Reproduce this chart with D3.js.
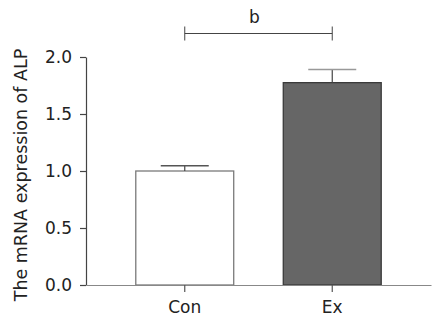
<!DOCTYPE html>
<html>
<head>
<meta charset="utf-8">
<script src="https://cdn.jsdelivr.net/npm/d3@7"></script>
<style>
  body { margin: 0; background: #fff; }
  text { font-family: "DejaVu Sans", Verdana, sans-serif; fill: #222; }
</style>
</head>
<body>
<svg id="chart" width="432" height="322"></svg>
<script>
const groups = ['Con', 'Ex'];
const means = [1.0, 1.775];
const errors = [0.045, 0.115];
const yTicks = [0, 0.5, 1.0, 1.5, 2.0];
const sigLabel = 'b';
const yLabel = 'The mRNA expression of ALP';

const svg = d3.select('#chart');
const margin = { left: 86, top: 57, bottom: 37 };
const width = 432, height = 322;
const plotBottom = height - margin.bottom; // ~285

const y = d3.scaleLinear().domain([0, 2]).range([plotBottom, margin.top]);
const x = d3.scaleBand().domain(groups).range([86, 431]).paddingInner(0.336).paddingOuter(0.3375);

// bars
const fills = ['#ffffff', '#666666'];
const strokes = ['#7a7a7a', '#3a3a3a'];
svg.append('g').selectAll('rect').data(groups).join('rect')
  .attr('x', d => x(d))
  .attr('y', (d, i) => y(means[i]))
  .attr('width', x.bandwidth())
  .attr('height', (d, i) => y(0) - y(means[i]))
  .attr('fill', (d, i) => fills[i])
  .attr('stroke', (d, i) => strokes[i])
  .attr('stroke-width', 1.3);

// error bars (upper only)
const capHalf = 24;
const eb = svg.append('g');
groups.forEach((g, i) => {
  const cx = x(g) + x.bandwidth() / 2;
  eb.append('line')
    .attr('x1', cx).attr('x2', cx)
    .attr('y1', y(means[i])).attr('y2', y(means[i] + errors[i]))
    .attr('stroke', '#444').attr('stroke-width', 1.2);
  eb.append('line')
    .attr('x1', cx - capHalf).attr('x2', cx + capHalf)
    .attr('y1', y(means[i] + errors[i])).attr('y2', y(means[i] + errors[i]))
    .attr('stroke', i === 0 ? '#555' : '#999').attr('stroke-width', 1.5);
});

// y axis
const yAxis = svg.append('g')
  .attr('transform', `translate(${margin.left},0)`)
  .call(d3.axisLeft(y).tickValues(yTicks).tickFormat(d3.format('.1f')).tickSize(6).tickSizeOuter(0));
yAxis.select('.domain').attr('stroke', '#444').attr('stroke-width', 1.2);
yAxis.selectAll('.tick line').attr('stroke', '#444').attr('stroke-width', 1.2);
yAxis.selectAll('.tick text').attr('font-size', 17).attr('x', -14).attr('fill', '#222');

// x axis
const xAxis = svg.append('g')
  .attr('transform', `translate(0,${plotBottom})`)
  .call(d3.axisBottom(x).tickSize(7).tickSizeOuter(0));
xAxis.select('.domain').attr('stroke', '#888').attr('stroke-width', 1.2);
xAxis.selectAll('.tick line').attr('stroke', '#555').attr('stroke-width', 1.2);
xAxis.selectAll('.tick text').attr('font-size', 17).attr('y', 16).attr('dy', '0.71em').attr('fill', '#222');

// y label
svg.append('text')
  .attr('transform', `translate(27,175) rotate(-90)`)
  .attr('text-anchor', 'middle')
  .attr('font-size', 17.5)
  .text(yLabel);

// significance bracket
const x1 = x(groups[0]) + x.bandwidth() / 2;
const x2 = x(groups[1]) + x.bandwidth() / 2;
const by = 33.5;
const br = svg.append('g').attr('stroke', '#444').attr('stroke-width', 1);
br.append('line').attr('x1', x1).attr('x2', x2).attr('y1', by).attr('y2', by);
br.append('line').attr('x1', x1).attr('x2', x1).attr('y1', by - 7).attr('y2', by + 7);
br.append('line').attr('x1', x2).attr('x2', x2).attr('y1', by - 7).attr('y2', by + 7);
svg.append('text')
  .attr('x', (x1 + x2) / 2 - 4).attr('y', 22.5)
  .attr('text-anchor', 'middle')
  .attr('font-size', 17)
  .text(sigLabel);
</script>
</body>
</html>
